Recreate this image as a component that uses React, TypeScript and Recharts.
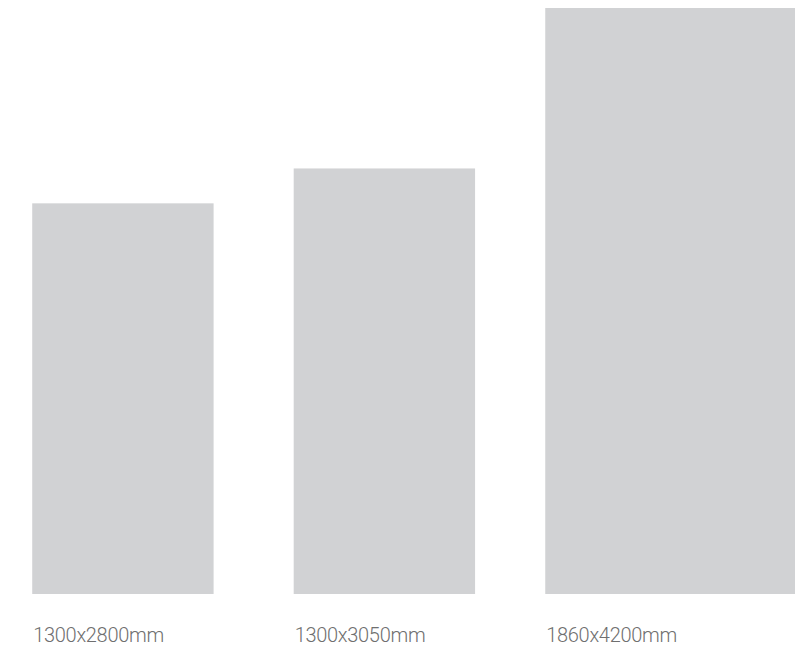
import React from 'react';
import { BarChart, Bar, XAxis, YAxis } from 'recharts';

// Panel sizes (mm)
const sizeLabels = ['1300x2800mm', '1300x3050mm', '1860x4200mm'];
const widthsMm = [1300, 1300, 1860];
const heightsMm = [2800, 3050, 4200];
// left edge of each panel along the row (mm)
const startsMm = [0, 1874, 3677];

const data = sizeLabels.map((label, i) => ({
  label,
  w: widthsMm[i],
  h: heightsMm[i],
  start: startsMm[i],
}));

const CHART_W = 830;
const CHART_H = 646;
const MARGIN = { top: 8, right: 0, bottom: 52, left: 32 };
const PLOT_H = CHART_H - MARGIN.top - MARGIN.bottom;
const PLOT_W = CHART_W - MARGIN.left - MARGIN.right;
const Y_MAX = 4200;
const X_MAX = (PLOT_W * Y_MAX) / PLOT_H;

const PanelShape = (props: any) => {
  const { x, y, width, height, payload } = props;
  const left = x + width / 2;
  const pxPerMm = height / payload.h;
  const w = payload.w * pxPerMm;
  return (
    <g>
      <rect x={left} y={y} width={w} height={height} fill="#d1d2d4" />
      <text
        x={left + 1}
        y={y + height + 48}
        fill="#6f6f6f"
        fontFamily="Roboto, sans-serif"
        fontWeight={300}
        fontSize={20}
        letterSpacing={-0.3}
        textAnchor="start"
      >
        {payload.label}
      </text>
    </g>
  );
};

export default function App() {
  return (
    <div style={{ position: 'absolute', left: 0, top: 0, width: 795, height: 646, overflow: 'hidden', background: '#fff' }}>
      <BarChart width={CHART_W} height={CHART_H} data={data} margin={MARGIN}>
        <XAxis type="number" dataKey="start" domain={[0, X_MAX]} hide />
        <YAxis type="number" domain={[0, Y_MAX]} hide />
        <Bar dataKey="h" barSize={10} isAnimationActive={false} shape={PanelShape} />
      </BarChart>
    </div>
  );
}
